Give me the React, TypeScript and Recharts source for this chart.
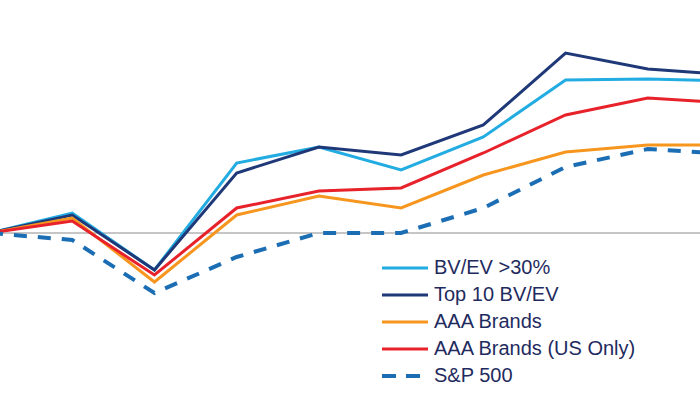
import { Legend, Line, LineChart, ReferenceLine, XAxis, YAxis } from 'recharts';

// cumulative performance, %
const periods = ['P0', 'P1', 'P2', 'P3', 'P4', 'P5', 'P6', 'P7', 'P8', 'P9'];
const bvEv30 = [0, 10, -18.5, 35, 43, 31.5, 48, 76.5, 77, 76];
const top10BvEv = [0, 9, -18.5, 30, 43, 39, 54, 90, 82, 79];
const aaaBrands = [0, 7.5, -24.5, 9, 18.5, 12.5, 29, 40.5, 44, 44];
const aaaBrandsUs = [0, 6, -21, 12.5, 21, 22.5, 40, 59, 67.5, 65];
const sp500 = [0, -3.5, -30, -12, 0, 0, 12.5, 33, 42, 39.5];

const SERIES = [
  { key: 'bvEv30', name: 'BV/EV >30%', color: '#22ACE2', dash: undefined, width: 3 },
  { key: 'top10', name: 'Top 10 BV/EV', color: '#1F3878', dash: undefined, width: 3 },
  { key: 'aaa', name: 'AAA Brands', color: '#F7961F', dash: undefined, width: 3 },
  { key: 'aaaUs', name: 'AAA Brands (US Only)', color: '#E8222B', dash: undefined, width: 3 },
  { key: 'sp500', name: 'S&P 500', color: '#1B6DB4', dash: '13 11', width: 4 }
];

const data = periods.map((period, i) => ({
  period,
  bvEv30: bvEv30[i],
  top10: top10BvEv[i],
  aaa: aaaBrands[i],
  aaaUs: aaaBrandsUs[i],
  sp500: sp500[i]
}));

function LegendBox() {
  return (
    <div style={{ fontFamily: '"Liberation Sans", Arial, sans-serif', fontSize: 20, color: '#1F2B5E' }}>
      {SERIES.map((s) => (
        <div key={s.key} style={{ display: 'flex', alignItems: 'center', height: 27 }}>
          <svg width={46} height={6} style={{ marginRight: 6 }}>
            <line x1={0} y1={3} x2={46} y2={3} stroke={s.color} strokeWidth={s.dash ? 4 : 3} strokeDasharray={s.dash ? '14 10' : undefined} />
          </svg>
          <span>{s.name}</span>
        </div>
      ))}
    </div>
  );
}

export default function App() {
  return (
    <div style={{ position: 'fixed', left: 0, top: 0, width: 700, height: 400, overflow: 'hidden', background: '#fff' }}>
      <div style={{ marginLeft: -10 }}>
        <LineChart width={740} height={400} data={data} margin={{ top: 0, right: 0, left: 0, bottom: 0 }}>
          <XAxis dataKey="period" hide />
          <YAxis hide domain={[-83.5, 116.5]} allowDataOverflow />
          <ReferenceLine y={0} stroke="#8C8C8C" strokeWidth={1} />
          {SERIES.map((s) => (
            <Line
              key={s.key}
              dataKey={s.key}
              name={s.name}
              stroke={s.color}
              strokeWidth={s.width}
              strokeDasharray={s.dash}
              dot={false}
              activeDot={false}
              isAnimationActive={false}
            />
          ))}
          <Legend
            layout="vertical"
            align="center"
            verticalAlign="middle"
            content={() => <LegendBox />}
            wrapperStyle={{ position: 'absolute', left: 392, top: 254, width: 300 }}
          />
        </LineChart>
      </div>
    </div>
  );
}
